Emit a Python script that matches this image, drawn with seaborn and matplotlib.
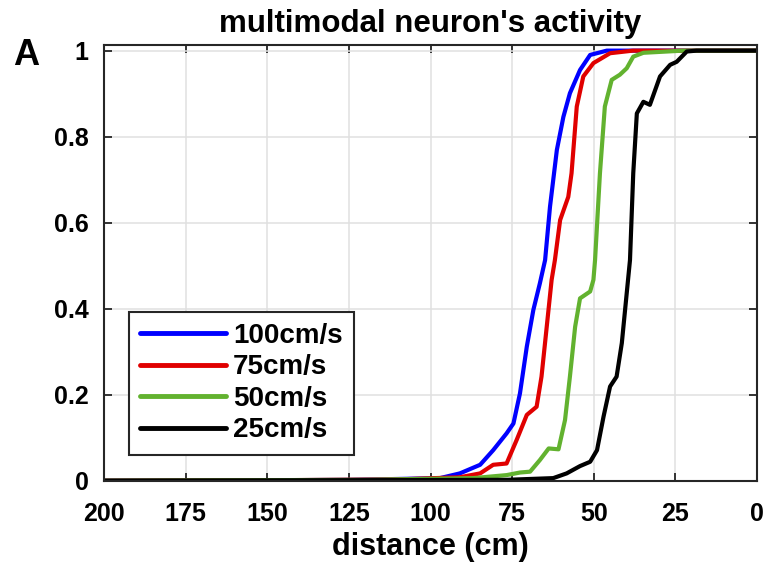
import pandas as pd
import matplotlib
matplotlib.use("Agg")
import matplotlib.pyplot as plt
import seaborn as sns

# Activity curves: distance (cm) vs normalised activity
DIST_100 = [200, 150, 125, 110, 97.1, 91.0, 84.8, 80.8, 76.7, 74.6, 72.6, 70.5, 68.5,
            66.5, 64.9, 63.4, 61.3, 59.3, 57.3, 54.2, 51.1, 46.0, 0]
ACT_100 = [0, 0.001, 0.002, 0.004, 0.006, 0.017, 0.037, 0.071, 0.11, 0.133, 0.203,
           0.312, 0.397, 0.459, 0.513, 0.637, 0.769, 0.846, 0.901, 0.955, 0.99,
           1.0, 1.0]

DIST_75 = [200, 150, 110, 91.0, 84.8, 80.8, 76.7, 73.6, 70.5, 67.5, 66.0, 64.4, 62.9,
           61.9, 60.3, 57.8, 56.8, 55.2, 53.2, 50.1, 45.0, 38.0, 0]
ACT_75 = [0, 0.001, 0.003, 0.008, 0.017, 0.037, 0.04, 0.095, 0.153, 0.172, 0.242,
          0.358, 0.467, 0.513, 0.606, 0.66, 0.715, 0.87, 0.94, 0.971, 0.994, 1.0, 1.0]

DIST_50 = [200, 120, 86.9, 76.7, 72.6, 69.5, 66.5, 63.8, 60.8, 58.8, 57.3, 55.7, 54.2,
           51.1, 50.1, 49.6, 48.1, 46.6, 44.5, 42.0, 39.9, 37.9, 34.8, 22.6, 0]
ACT_50 = [0, 0.002, 0.006, 0.013, 0.019, 0.021, 0.048, 0.075, 0.073, 0.141, 0.242,
          0.358, 0.424, 0.44, 0.467, 0.513, 0.715, 0.87, 0.932, 0.944, 0.959, 0.986,
          0.995, 1.0, 1.0]

DIST_25 = [200, 76.7, 62.4, 58.3, 54.2, 51.1, 49.0, 47.0, 45.0, 43.0, 41.4, 39.9, 38.9,
           37.9, 36.8, 34.8, 32.8, 29.7, 26.6, 24.6, 21.5, 18.5, 0]
ACT_25 = [0, 0.002, 0.006, 0.017, 0.034, 0.044, 0.071, 0.149, 0.219, 0.242, 0.32,
          0.436, 0.513, 0.715, 0.854, 0.881, 0.874, 0.94, 0.967, 0.974, 0.998, 1.0, 1.0]

SPEEDS = ["100cm/s", "75cm/s", "50cm/s", "25cm/s"]
COLORS = ["#0000ff", "#e00000", "#62b22f", "#000000"]

X_TICKS = [0, 25, 50, 75, 100, 125, 150, 175, 200]
Y_TICKS = [0, 0.2, 0.4, 0.6, 0.8, 1.0]
Y_TICK_LABELS = ["0", "0.2", "0.4", "0.6", "0.8", "1"]

sns.set_style("ticks")
plt.rcParams["font.family"] = ["Liberation Sans", "DejaVu Sans"]
plt.rcParams["font.weight"] = "bold"
plt.rcParams["text.color"] = "black"

frames = []
for speed, d, a in zip(SPEEDS, [DIST_100, DIST_75, DIST_50, DIST_25],
                       [ACT_100, ACT_75, ACT_50, ACT_25]):
    frames.append(pd.DataFrame({"distance": d, "activity": a, "speed": speed}))
df = pd.concat(frames, ignore_index=True)

fig = plt.figure(figsize=(7.7, 5.68), dpi=100)
ax = fig.add_axes([0.1351, 0.1537, 0.848, 0.767])

sns.lineplot(data=df, x="distance", y="activity", hue="speed", hue_order=SPEEDS,
             palette=COLORS, linewidth=3.0, ax=ax)
for ln in ax.get_lines():
    ln.set_solid_joinstyle("round")
    ln.set_solid_capstyle("round")

ax.set_xlim(200, 0)
ax.set_ylim(0, 1.013)
ax.set_xticks(X_TICKS)
ax.set_xticklabels([str(t) for t in X_TICKS])
ax.set_yticks(Y_TICKS)
ax.set_yticklabels(Y_TICK_LABELS)
ax.grid(True, color="#e0e0e0", linewidth=1.1)
ax.set_axisbelow(True)
ax.tick_params(direction="in", top=True, right=True, labelsize=18,
               length=6, width=1.3, colors="#262626", labelcolor="black")
ax.tick_params(axis="x", pad=15)
ax.tick_params(axis="y", pad=11)
for lbl in ax.get_xticklabels() + ax.get_yticklabels():
    lbl.set_fontweight("bold")
for spine in ax.spines.values():
    spine.set_visible(True)
    spine.set_color("#262626")
    spine.set_linewidth(1.5)

ax.set_xlabel("distance (cm)", fontsize=22, fontweight="bold", labelpad=5, color="black")
ax.set_ylabel("")
ax.set_title("multimodal neuron's activity", fontsize=22.5, fontweight="bold", pad=9.5,
             color="black")
fig.text(0.034, 0.903, "A", fontsize=26, fontweight="bold", ha="center", va="center")

leg = ax.legend(loc="lower left", bbox_to_anchor=(0.038, 0.06), fontsize=20,
                handlelength=3.1, handletextpad=0.25, labelspacing=0.2,
                borderpad=0.4, borderaxespad=0, fancybox=False, framealpha=1,
                edgecolor="#262626")
leg.get_frame().set_linewidth(1.5)
for h in leg.get_lines():
    h.set_linewidth(3.5)
for t in leg.get_texts():
    t.set_fontweight("bold")

fig.savefig("out.png", dpi=100)
